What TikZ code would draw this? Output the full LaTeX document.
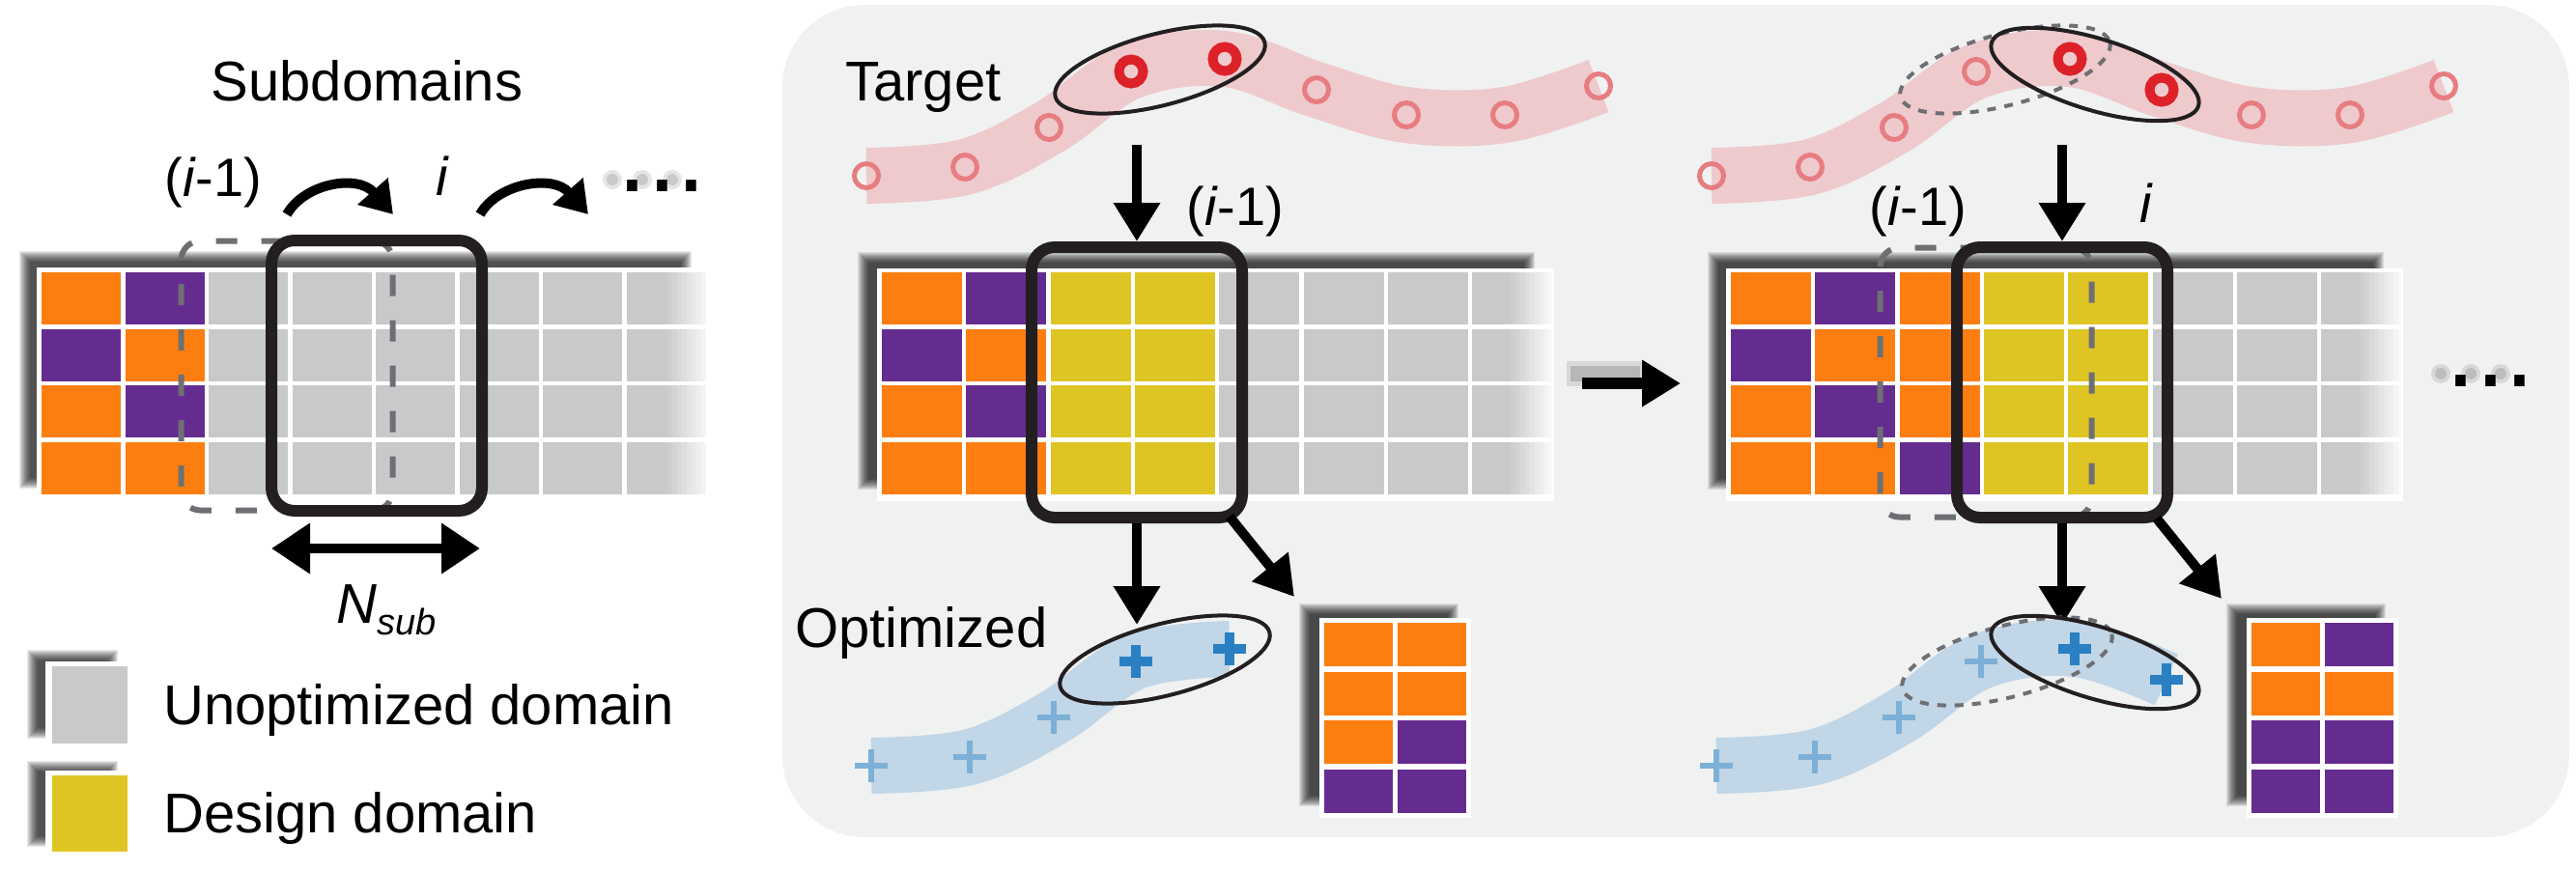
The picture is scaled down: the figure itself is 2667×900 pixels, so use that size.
\documentclass[tikz, border = 0pt]{standalone}
\usepackage{fontspec}
\setmainfont{Liberation Sans}
\usetikzlibrary{arrows.meta}

\definecolor{orng}{RGB}{253, 126, 16}
\definecolor{purp}{RGB}{101, 44, 144}
\definecolor{yell}{RGB}{223, 197, 36}
\definecolor{cellgray}{RGB}{200, 201, 203}
\definecolor{panelbg}{RGB}{240, 242, 241}
\definecolor{pinkband}{RGB}{238, 202, 205}
\definecolor{ringlight}{RGB}{231, 125, 129}
\definecolor{ringred}{RGB}{221, 33, 40}
\definecolor{blueband}{RGB}{193, 214, 231}
\definecolor{pluslight}{RGB}{124, 176, 215}
\definecolor{plusdark}{RGB}{42, 128, 194}
\definecolor{dashgray}{RGB}{110, 111, 114}
\definecolor{winblack}{RGB}{35, 31, 32}

\newcommand{\cellrow}[6]{\foreach \c [count = \k from 0] in {#6} {\fill[\c] ({#1 + #3*\k}, #2) rectangle ++(#4, #5);}}
\newcommand{\softshadow}[4]{\foreach \d in {0, ..., 11} {\fill[black, opacity = 0.09] ({#1 + \d}, {#2 + \d}) rectangle ({#3 - \d}, {#4 - \d});}}
\newcommand{\fadeedge}[3]{\foreach \k [evaluate = \k as \op using \k/10] in {1, ..., 9} {\fill[white, opacity = \op] ({#1 - 50 + 5*\k}, #2) rectangle ++(5, {#3 - #2});}}
\newcommand{\dotshadow}[2]{\foreach \x in {0, 31, 62} {\fill[black, opacity = 0.1] ({#1 + \x}, #2) circle [radius = 10]; \fill[black, opacity = 0.12] ({#1 + \x}, #2) circle [radius = 6];}}

\tikzset{
  lbl/.style = {font = \fontsize{58}{70}\selectfont, inner sep = 0pt},
  idx/.style = {font = \fontsize{56}{66}\selectfont, inner sep = 0pt},
  moredots/.style = {font = \fontsize{111}{120}\selectfont, inner sep = 0pt},
  window/.style = {draw = winblack, line width = 12pt, rounded corners = 24pt, inner sep = 0pt, minimum width = 218pt, minimum height = 280pt},
  prevwindow/.style = {draw = dashgray, line width = 6pt, dash pattern = on 22pt off 25pt, rounded corners = 20pt, inner sep = 0pt, minimum width = 219pt, minimum height = 279pt},
  flowarrow/.style = {line width = 10pt, -{Triangle[length = 40pt, width = 46pt]}},
  swingarrow/.style = {line width = 10pt, -{Triangle[length = 32pt, width = 40pt]}},
  spanarrow/.style = {line width = 10pt, {Triangle[length = 40pt, width = 50pt]}-{Triangle[length = 40pt, width = 50pt]}},
  tgtband/.style = {pinkband, line width = 58pt},
  optband/.style = {blueband, line width = 58pt},
  tgtring/.style = {ringlight, line width = 5pt},
  tgtringsel/.style = {ringred, line width = 10pt},
  optplus/.style = {pluslight, line width = 6pt},
  optplussel/.style = {plusdark, line width = 10pt},
  selring/.style = {winblack, line width = 4pt},
  prevring/.style = {dashgray, line width = 4pt, dash pattern = on 9pt off 9pt},
  crossmark/.pic = {\draw (-17, 0) -- (17, 0) (0, -17) -- (0, 17);}
}

\begin{document}
\begin{tikzpicture} [x = 1pt, y = -1pt]
\useasboundingbox (0, 0) rectangle (2667, 900);
\fill[panelbg, rounded corners = 85pt] (810, 5) rectangle (2660, 867);

\node[lbl, anchor = base] (subttl) at (380, 104) {Subdomains};
\softshadow{20}{260}{716}{506}
\fill[white] (38, 277) rectangle (736, 518);
\cellrow{43}{282}{86.5}{82}{54}{orng,purp,cellgray,cellgray,cellgray,cellgray,cellgray,cellgray}
\cellrow{43}{340.6}{86.5}{82}{54}{purp,orng,cellgray,cellgray,cellgray,cellgray,cellgray,cellgray}
\cellrow{43}{399.2}{86.5}{82}{54}{orng,purp,cellgray,cellgray,cellgray,cellgray,cellgray,cellgray}
\cellrow{43}{457.8}{86.5}{82}{54}{orng,orng,cellgray,cellgray,cellgray,cellgray,cellgray,cellgray}
\fadeedge{736}{277}{518}
\node[prevwindow] (prevL) at (297, 389) {};
\node[window] (winL) at (390, 389) {};
\node[idx, anchor = base] (prevlblL) at (221, 203) {(\textit{i}-1)};
\node[idx, anchor = base] (curlblL) at (458, 202) {\textit{i}};
\coordinate (swA1) at (297, 222);
\coordinate (swA2) at (407, 222);
\coordinate (swB1) at (497, 222);
\coordinate (swB2) at (609, 222);
\draw[swingarrow] (swA1) .. controls (315, 190) and (370, 180) .. (swA2);
\draw[swingarrow] (swB1) .. controls (515, 190) and (572, 180) .. (swB2);
\dotshadow{634}{186}
\node[moredots, anchor = base west] (moreL) at (639, 198) {...};
\coordinate (spanA) at (281, 568);
\coordinate (spanB) at (497, 568);
\draw[spanarrow] (spanA) -- (spanB);
\node[lbl, anchor = base west] (nsub) at (348, 645) {\textit{N}\raisebox{-12pt}{\fontsize{38}{40}\selectfont\textit{sub}}};

\softshadow{28}{673}{122}{765}
\fill[white] (47, 685) rectangle (134, 773);
\fill[cellgray] (54, 690) rectangle (132, 770);
\node[lbl, anchor = base west] (legunopt) at (169, 750) {Unoptimized domain};
\softshadow{28}{788}{122}{877}
\fill[white] (47, 798) rectangle (134, 885);
\fill[yell] (54, 803) rectangle (132, 882);
\node[lbl, anchor = base west] (legdesign) at (169, 862) {Design domain};

\node[lbl, anchor = base west] (tgtlbl) at (875, 104) {Target};
\draw[tgtband] plot[smooth, tension = 0.6] coordinates {(897, 182) (999, 173) (1086, 132) (1171, 74) (1268, 61) (1363, 93) (1456, 119) (1558, 119) (1655, 89)};
\draw[tgtring] (897, 182) circle [radius = 12.5];
\draw[tgtring] (999, 173) circle [radius = 12.5];
\draw[tgtring] (1086, 132) circle [radius = 12.5];
\draw[tgtringsel] (1171, 74) circle [radius = 12.5];
\draw[tgtringsel] (1268, 61) circle [radius = 12.5];
\draw[tgtring] (1363, 93) circle [radius = 12.5];
\draw[tgtring] (1456, 119) circle [radius = 12.5];
\draw[tgtring] (1558, 119) circle [radius = 12.5];
\draw[tgtring] (1655, 89) circle [radius = 12.5];
\draw[selring, rotate around = {14.6:(1201, 72)}] (1201, 72) ellipse [x radius = 112, y radius = 37];
\node[idx, anchor = base] (prevlblM) at (1279, 233) {(\textit{i}-1)};
\softshadow{888}{261}{1589}{507}
\fill[white] (908, 278) rectangle (1609, 519);
\cellrow{913}{282}{87.3}{83}{54}{orng,purp,yell,yell,cellgray,cellgray,cellgray,cellgray}
\cellrow{913}{340.6}{87.3}{83}{54}{purp,orng,yell,yell,cellgray,cellgray,cellgray,cellgray}
\cellrow{913}{399.2}{87.3}{83}{54}{orng,purp,yell,yell,cellgray,cellgray,cellgray,cellgray}
\cellrow{913}{457.8}{87.3}{83}{54}{orng,orng,yell,yell,cellgray,cellgray,cellgray,cellgray}
\fadeedge{1609}{278}{519}
\node[window] (winM) at (1177, 396) {};
\coordinate (dnM1) at (1177, 150);
\coordinate (dnM2) at (1177, 647);
\coordinate (dgM1) at (1273, 535);
\coordinate (dgM2) at (1340, 618);
\draw[flowarrow] (dnM1) -- (winM.north);
\draw[flowarrow] (winM.south) -- (dnM2);
\draw[flowarrow] (dgM1) -- (dgM2);
\node[lbl, anchor = base west] (optlbl) at (823, 670) {Optimized};
\draw[optband, shift = {(5, 611)}] plot[smooth, tension = 0.6] coordinates {(897, 182) (999, 173) (1086, 132) (1171, 74) (1268, 61)};
\pic[optplus] at (902, 793) {crossmark};
\pic[optplus] at (1004, 784) {crossmark};
\pic[optplus] at (1091, 743) {crossmark};
\pic[optplussel] at (1176, 685) {crossmark};
\pic[optplussel] at (1273, 672) {crossmark};
\draw[selring, rotate around = {14.6:(1206, 683)}] (1206, 683) ellipse [x radius = 112, y radius = 37];
\softshadow{1345}{625}{1510}{835}
\fill[white] (1366, 640) rectangle (1523, 847);
\cellrow{1371}{645}{76}{71}{45}{orng,orng}
\cellrow{1371}{695.7}{76}{71}{45}{orng,orng}
\cellrow{1371}{746.4}{76}{71}{45}{orng,purp}
\cellrow{1371}{797.1}{76}{71}{45}{purp,purp}

\coordinate (nxtA) at (1638, 397);
\coordinate (nxtB) at (1740, 397);
\draw[black, opacity = 0.1, line width = 26pt] (1622, 387) -- (1700, 387);
\draw[black, opacity = 0.15, line width = 16pt] (1626, 387) -- (1698, 387);
\draw[flowarrow, line width = 12pt] (nxtA) -- (nxtB);

\draw[tgtband, shift = {(875, 0)}] plot[smooth, tension = 0.6] coordinates {(897, 182) (999, 173) (1086, 132) (1171, 74) (1268, 61) (1363, 93) (1456, 119) (1558, 119) (1655, 89)};
\draw[tgtring] (1772, 182) circle [radius = 12.5];
\draw[tgtring] (1874, 173) circle [radius = 12.5];
\draw[tgtring] (1961, 132) circle [radius = 12.5];
\draw[tgtring] (2046, 74) circle [radius = 12.5];
\draw[tgtringsel] (2143, 61) circle [radius = 12.5];
\draw[tgtringsel] (2238, 93) circle [radius = 12.5];
\draw[tgtring] (2331, 119) circle [radius = 12.5];
\draw[tgtring] (2433, 119) circle [radius = 12.5];
\draw[tgtring] (2530, 89) circle [radius = 12.5];
\draw[prevring, rotate around = {14.6:(2076, 72)}] (2076, 72) ellipse [x radius = 112, y radius = 37];
\draw[selring, rotate around = {-17:(2169, 77)}] (2169, 77) ellipse [x radius = 112, y radius = 37];
\node[idx, anchor = base] (prevlblR) at (1986, 233) {(\textit{i}-1)};
\node[idx, anchor = base] (curlblR) at (2222, 230) {\textit{i}};
\softshadow{1768}{261}{2468}{507}
\fill[white] (1787, 278) rectangle (2488, 519);
\cellrow{1792}{282}{87.3}{83}{54}{orng,purp,orng,yell,yell,cellgray,cellgray,cellgray}
\cellrow{1792}{340.6}{87.3}{83}{54}{purp,orng,orng,yell,yell,cellgray,cellgray,cellgray}
\cellrow{1792}{399.2}{87.3}{83}{54}{orng,purp,orng,yell,yell,cellgray,cellgray,cellgray}
\cellrow{1792}{457.8}{87.3}{83}{54}{orng,orng,purp,yell,yell,cellgray,cellgray,cellgray}
\fadeedge{2488}{278}{519}
\node[prevwindow] (prevR) at (2056, 396) {};
\node[window] (winR) at (2135, 396) {};
\coordinate (dnR1) at (2135, 150);
\coordinate (dnR2) at (2135, 647);
\coordinate (dgR1) at (2233, 537);
\coordinate (dgR2) at (2300, 620);
\draw[flowarrow] (dnR1) -- (winR.north);
\draw[flowarrow] (winR.south) -- (dnR2);
\draw[flowarrow] (dgR1) -- (dgR2);
\draw[optband, shift = {(880, 611)}] plot[smooth, tension = 0.6] coordinates {(897, 182) (999, 173) (1086, 132) (1171, 74) (1268, 61) (1363, 93)};
\pic[optplus] at (1777, 793) {crossmark};
\pic[optplus] at (1879, 784) {crossmark};
\pic[optplus] at (1966, 743) {crossmark};
\pic[optplus] at (2051, 685) {crossmark};
\pic[optplussel] at (2148, 672) {crossmark};
\pic[optplussel] at (2243, 704) {crossmark};
\draw[prevring, rotate around = {14.6:(2078, 685)}] (2078, 685) ellipse [x radius = 112, y radius = 37];
\draw[selring, rotate around = {-17:(2169, 686)}] (2169, 686) ellipse [x radius = 112, y radius = 37];
\softshadow{2305}{625}{2470}{835}
\fill[white] (2326, 640) rectangle (2483, 847);
\cellrow{2331}{645}{76}{71}{45}{orng,purp}
\cellrow{2331}{695.7}{76}{71}{45}{orng,orng}
\cellrow{2331}{746.4}{76}{71}{45}{purp,purp}
\cellrow{2331}{797.1}{76}{71}{45}{purp,purp}
\dotshadow{2527}{387}
\node[moredots, anchor = base west] (moreR) at (2532, 400) {...};
\end{tikzpicture}
\end{document}
